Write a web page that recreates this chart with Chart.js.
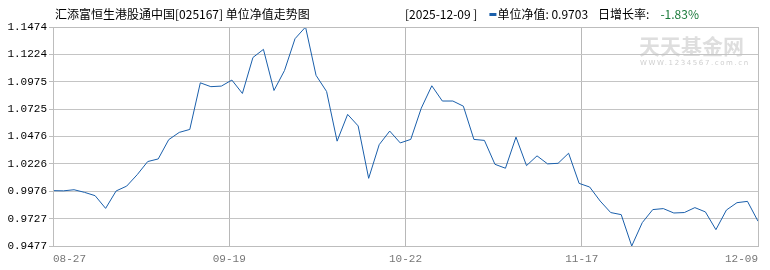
<!DOCTYPE html>
<html><head><meta charset="utf-8">
<script src="https://cdn.jsdelivr.net/npm/chart.js@4/dist/chart.umd.min.js"></script>
<style>html,body{margin:0;padding:0;background:#fff;} canvas{display:block;}</style>
</head><body>
<canvas id="c" width="770" height="270"></canvas>
<script>
const fundTitle = '汇添富恒生港股通中国[025167] 单位净值走势图';
const lastDate = '2025-12-09';
const seriesName = '单位净值';
const lastValueText = '0.9703';
const changeLabel = '日增长率';
const changeValueText = '-1.83%';
const watermarkBig = '天天基金网';
const watermarkSmall = 'WWW.1234567.com.cn';

const xTickLabels = ['08-27', '09-19', '10-22', '11-17', '12-09'];
const yTickLabels = ['0.9477', '0.9727', '0.9976', '1.0226', '1.0476', '1.0725', '1.0975', '1.1224', '1.1474'];

const navValues = [
  0.9982, 0.9980, 0.9990, 0.9966, 0.9936, 0.9820, 0.9979, 1.0023, 1.0127, 1.0247,
  1.0271, 1.0447, 1.0513, 1.0540, 1.0965, 1.0930, 1.0935, 1.0990, 1.0868, 1.1196,
  1.1270, 1.0895, 1.1077, 1.1367, 1.1474, 1.1033, 1.0886, 1.0433, 1.0677, 1.0572,
  1.0094, 1.0401, 1.0525, 1.0417, 1.0449, 1.0734, 1.0938, 1.0799, 1.0799, 1.0752,
  1.0449, 1.0440, 1.0222, 1.0186, 1.0470, 1.0210, 1.0299, 1.0226, 1.0231, 1.0323,
  1.0048, 1.0015, 0.9887, 0.9782, 0.9763, 0.9477, 0.9690, 0.9809, 0.9818, 0.9778,
  0.9782, 0.9827, 0.9788, 0.9626, 0.9805, 0.9872, 0.9884, 0.9703
];

const lastIndex = navValues.length - 1;
const yMin = parseFloat(yTickLabels[0]);
const yMax = parseFloat(yTickLabels[yTickLabels.length - 1]);

const decor = {
  id: 'decor',
  beforeDraw(chart) {
    const ctx = chart.ctx;
    ctx.save();
    ctx.fillStyle = '#dedede';
    ctx.font = 'bold 21px "Noto Sans CJK SC"';
    ctx.textBaseline = 'middle';
    ctx.textAlign = 'left';
    ctx.fillText(watermarkBig, 639, 46);
    ctx.fillStyle = '#cfcfcf';
    ctx.font = '7px "DejaVu Sans"';
    try { ctx.letterSpacing = '1.6px'; } catch (e) {}
    ctx.fillText(watermarkSmall, 640, 63);
    try { ctx.letterSpacing = '0px'; } catch (e) {}
    ctx.restore();
  },
  afterDraw(chart) {
    const ctx = chart.ctx;
    const a = chart.chartArea;
    ctx.save();
    ctx.strokeStyle = '#bdbdbd';
    ctx.lineWidth = 1;
    ctx.setLineDash([]);
    ctx.strokeRect(Math.round(a.left) + 0.5, Math.round(a.top) + 0.5,
      Math.round(a.right - a.left), Math.round(a.bottom - a.top));
    ctx.fillStyle = '#000';
    ctx.textBaseline = 'middle';
    ctx.textAlign = 'left';
    ctx.font = '12px "Noto Sans CJK SC"';
    ctx.fillText(fundTitle, 55, 14);
    let x = 405;
    const t1 = '[' + lastDate + ' ]';
    ctx.fillText(t1, x, 14);
    x += ctx.measureText(t1).width + 12;
    ctx.fillStyle = '#1a5fab';
    ctx.fillRect(x, 13, 7, 3);
    x += 8;
    ctx.fillStyle = '#000';
    const t2 = seriesName + ': ' + lastValueText;
    ctx.fillText(t2, x, 14);
    x += ctx.measureText(t2).width + 10;
    const t3 = changeLabel + ':';
    ctx.fillText(t3, x, 14);
    x += ctx.measureText(t3).width + 11;
    ctx.fillStyle = '#1b7a3b';
    ctx.fillText(changeValueText, x, 14);
    ctx.restore();
  }
};

const points = navValues.map((v, i) => ({ x: i, y: v }));

new Chart(document.getElementById('c'), {
  type: 'line',
  data: {
    datasets: [{
      label: seriesName,
      data: points,
      borderColor: '#1a5fab',
      borderWidth: 1,
      pointRadius: 0,
      tension: 0,
      fill: false
    }]
  },
  options: {
    responsive: false,
    animation: false,
    layout: { padding: { left: 0, top: 27, right: 12, bottom: 0 } },
    plugins: { legend: { display: false }, tooltip: { enabled: false }, title: { display: false } },
    scales: {
      x: {
        type: 'linear',
        min: 0,
        max: lastIndex,
        afterBuildTicks(scale) {
          const n = xTickLabels.length;
          scale.ticks = xTickLabels.map((_, i) => ({ value: lastIndex * i / (n - 1) }));
        },
        afterFit(scale) { scale.height = 24; },
        border: { display: false },
        grid: {
          color: (c) => (c.index === 0 || c.index === xTickLabels.length - 1) ? 'rgba(0,0,0,0)' : '#b8b8b8',
          lineWidth: 1,
          borderDash: [4, 3],
          drawTicks: false
        },
        ticks: {
          autoSkip: false,
          maxRotation: 0,
          align: 'inner',
          padding: 6,
          color: '#777',
          font: { family: '"Liberation Mono"', size: 11 },
          callback: (v, i) => xTickLabels[i]
        }
      },
      y: {
        min: yMin,
        max: yMax,
        afterBuildTicks(scale) {
          const n = yTickLabels.length;
          scale.ticks = yTickLabels.map((_, i) => ({ value: yMin + (yMax - yMin) * i / (n - 1) }));
        },
        afterFit(scale) { scale.width = 53; },
        border: { display: false },
        grid: {
          color: (c) => (c.index === 0 || c.index === yTickLabels.length - 1) ? 'rgba(0,0,0,0)' : '#c4c4c4',
          lineWidth: 1,
          borderDash: [4, 3],
          drawTicks: true,
          tickLength: 4,
          tickColor: '#bdbdbd',
          tickBorderDash: []
        },
        ticks: {
          autoSkip: false,
          padding: 2,
          color: '#000',
          font: { family: '"Liberation Mono"', size: 11 },
          callback: (v, i) => yTickLabels[i]
        }
      }
    }
  },
  plugins: [decor]
});
</script>
</body></html>
